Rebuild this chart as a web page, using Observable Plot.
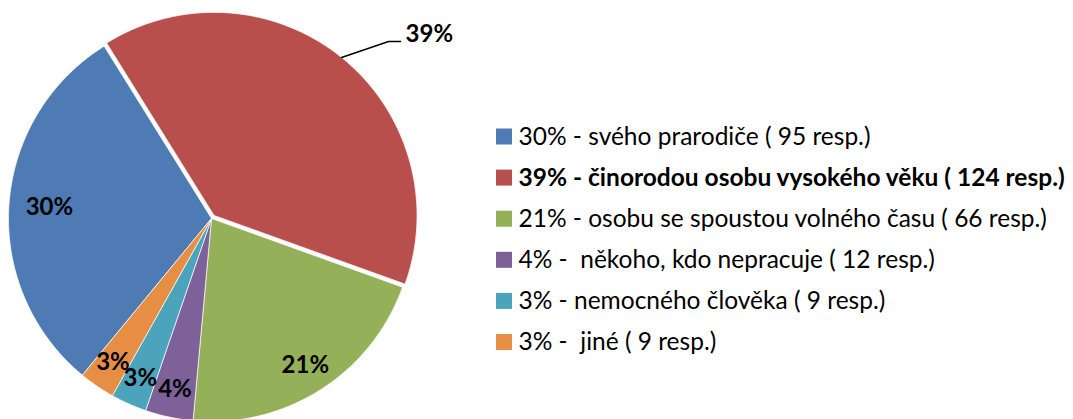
<!DOCTYPE html>
<html>
<head>
<meta charset="utf-8">
<script src="https://cdn.jsdelivr.net/npm/d3@7"></script>
<script src="https://cdn.jsdelivr.net/npm/@observablehq/plot@0.6"></script>
<style>
  html, body { margin: 0; padding: 0; background: #fff; }
  #chart { width: 1073px; height: 419px; }
</style>
</head>
<body>
<div id="chart"></div>
<script>
// ---- data ----
const categories = [
  "svého prarodiče",
  "činorodou osobu vysokého věku",
  "osobu se spoustou volného času",
  " někoho, kdo nepracuje",
  "nemocného člověka",
  " jiné"
];
const respondents = [95, 124, 66, 12, 9, 9];
const percentLabels = ["30%", "39%", "21%", "4%", "3%", "3%"];
const colors = ["#4E7BB4", "#B84F4C", "#94B059", "#7E6199", "#4BA3BC", "#E68F44"];
const highlighted = 1; // bold legend row / exploded slice

// ---- layout ----
const W = 1073, H = 419;
const cx = 211, cy = 218, R = 203;
const startAngleDeg = 219.5;     // angle of first slice (clockwise from 12 o'clock)
const explode = 4;
const font = "Lato, 'Open Sans', sans-serif";

const pie = d3.pie().sort(null).value(d => d)
  .startAngle(startAngleDeg * Math.PI / 180)
  .endAngle(startAngleDeg * Math.PI / 180 + 2 * Math.PI);
const arcs = pie(respondents);

const pt = (a, r, ox = 0, oy = 0) => ({x: cx + ox + r * Math.sin(a), y: cy + oy - r * Math.cos(a)});

const slices = arcs.map((a, i) => {
  const mid = (a.startAngle + a.endAngle) / 2;
  const off = i === highlighted ? explode : 0;
  const ox = off * Math.sin(mid), oy = -off * Math.cos(mid);
  const pts = [pt(0, 0, ox, oy)];
  const n = Math.max(4, Math.ceil((a.endAngle - a.startAngle) / 0.01));
  for (let k = 0; k <= n; k++) {
    const t = a.startAngle + (a.endAngle - a.startAngle) * k / n;
    pts.push(pt(t, R, ox, oy));
  }
  pts.push(pt(0, 0, ox, oy));
  return {i, mid, ox, oy, pts};
});

// data labels inside slices
const inside = slices.filter(s => s.i !== highlighted).map(s => {
  const frac = s.i === 0 ? 0.80 : 0.86;
  const p = pt(s.mid, R * frac, s.ox, s.oy);
  return {...p, label: percentLabels[s.i]};
});

// outside label with leader for highlighted slice
const hs = slices[highlighted];
const edge = pt(hs.mid, R, hs.ox, hs.oy);
const elbow = {x: edge.x + 47, y: edge.y - 16};
const tail = {x: elbow.x + 12, y: elbow.y};
const outsideLabel = [{x: tail.x + 5, y: tail.y - 7, label: percentLabels[highlighted]}];

// legend
const legendX = 496, legendY0 = 136.5, legendStep = 41.1, sw = 16;
const legend = categories.map((c, i) => ({
  i,
  y: legendY0 + i * legendStep,
  text: `${percentLabels[i]} - ${c} ( ${respondents[i]} resp.)`,
  color: colors[i]
}));

const marks = [
  ...slices.map(s => Plot.line(s.pts, {
    x: "x", y: "y", fill: colors[s.i], stroke: "white", strokeWidth: 0.7, curve: "linear"
  })),
  Plot.text(inside, {x: "x", y: "y", text: "label", fontSize: 24, fontWeight: "bold", fill: "#000", fontFamily: font}),
  Plot.line([edge, elbow, tail], {x: "x", y: "y", stroke: "#000", strokeWidth: 1.5}),
  Plot.text(outsideLabel, {x: "x", y: "y", text: "label", textAnchor: "start", fontSize: 24, fontWeight: "bold", fill: "#000", fontFamily: font}),
  Plot.rect(legend, {x1: legendX, x2: legendX + sw, y1: d => d.y - sw / 2, y2: d => d.y + sw / 2, fill: "color"}),
  Plot.text(legend.filter(d => d.i !== highlighted), {x: legendX + sw + 6, y: "y", text: "text", textAnchor: "start", fontSize: 24.5, fill: "#000", fontFamily: font}),
  Plot.text(legend.filter(d => d.i === highlighted), {x: legendX + sw + 6, y: "y", text: "text", textAnchor: "start", fontSize: 24.5, fontWeight: "bold", fill: "#000", fontFamily: font})
];

const chart = Plot.plot({
  width: W, height: H,
  margin: 0,
  x: {domain: [0, W], range: [0, W], axis: null},
  y: {domain: [0, H], range: [0, H], axis: null},
  style: {background: "white", overflow: "visible"},
  marks
});
document.getElementById("chart").append(chart);
</script>
</body>
</html>
